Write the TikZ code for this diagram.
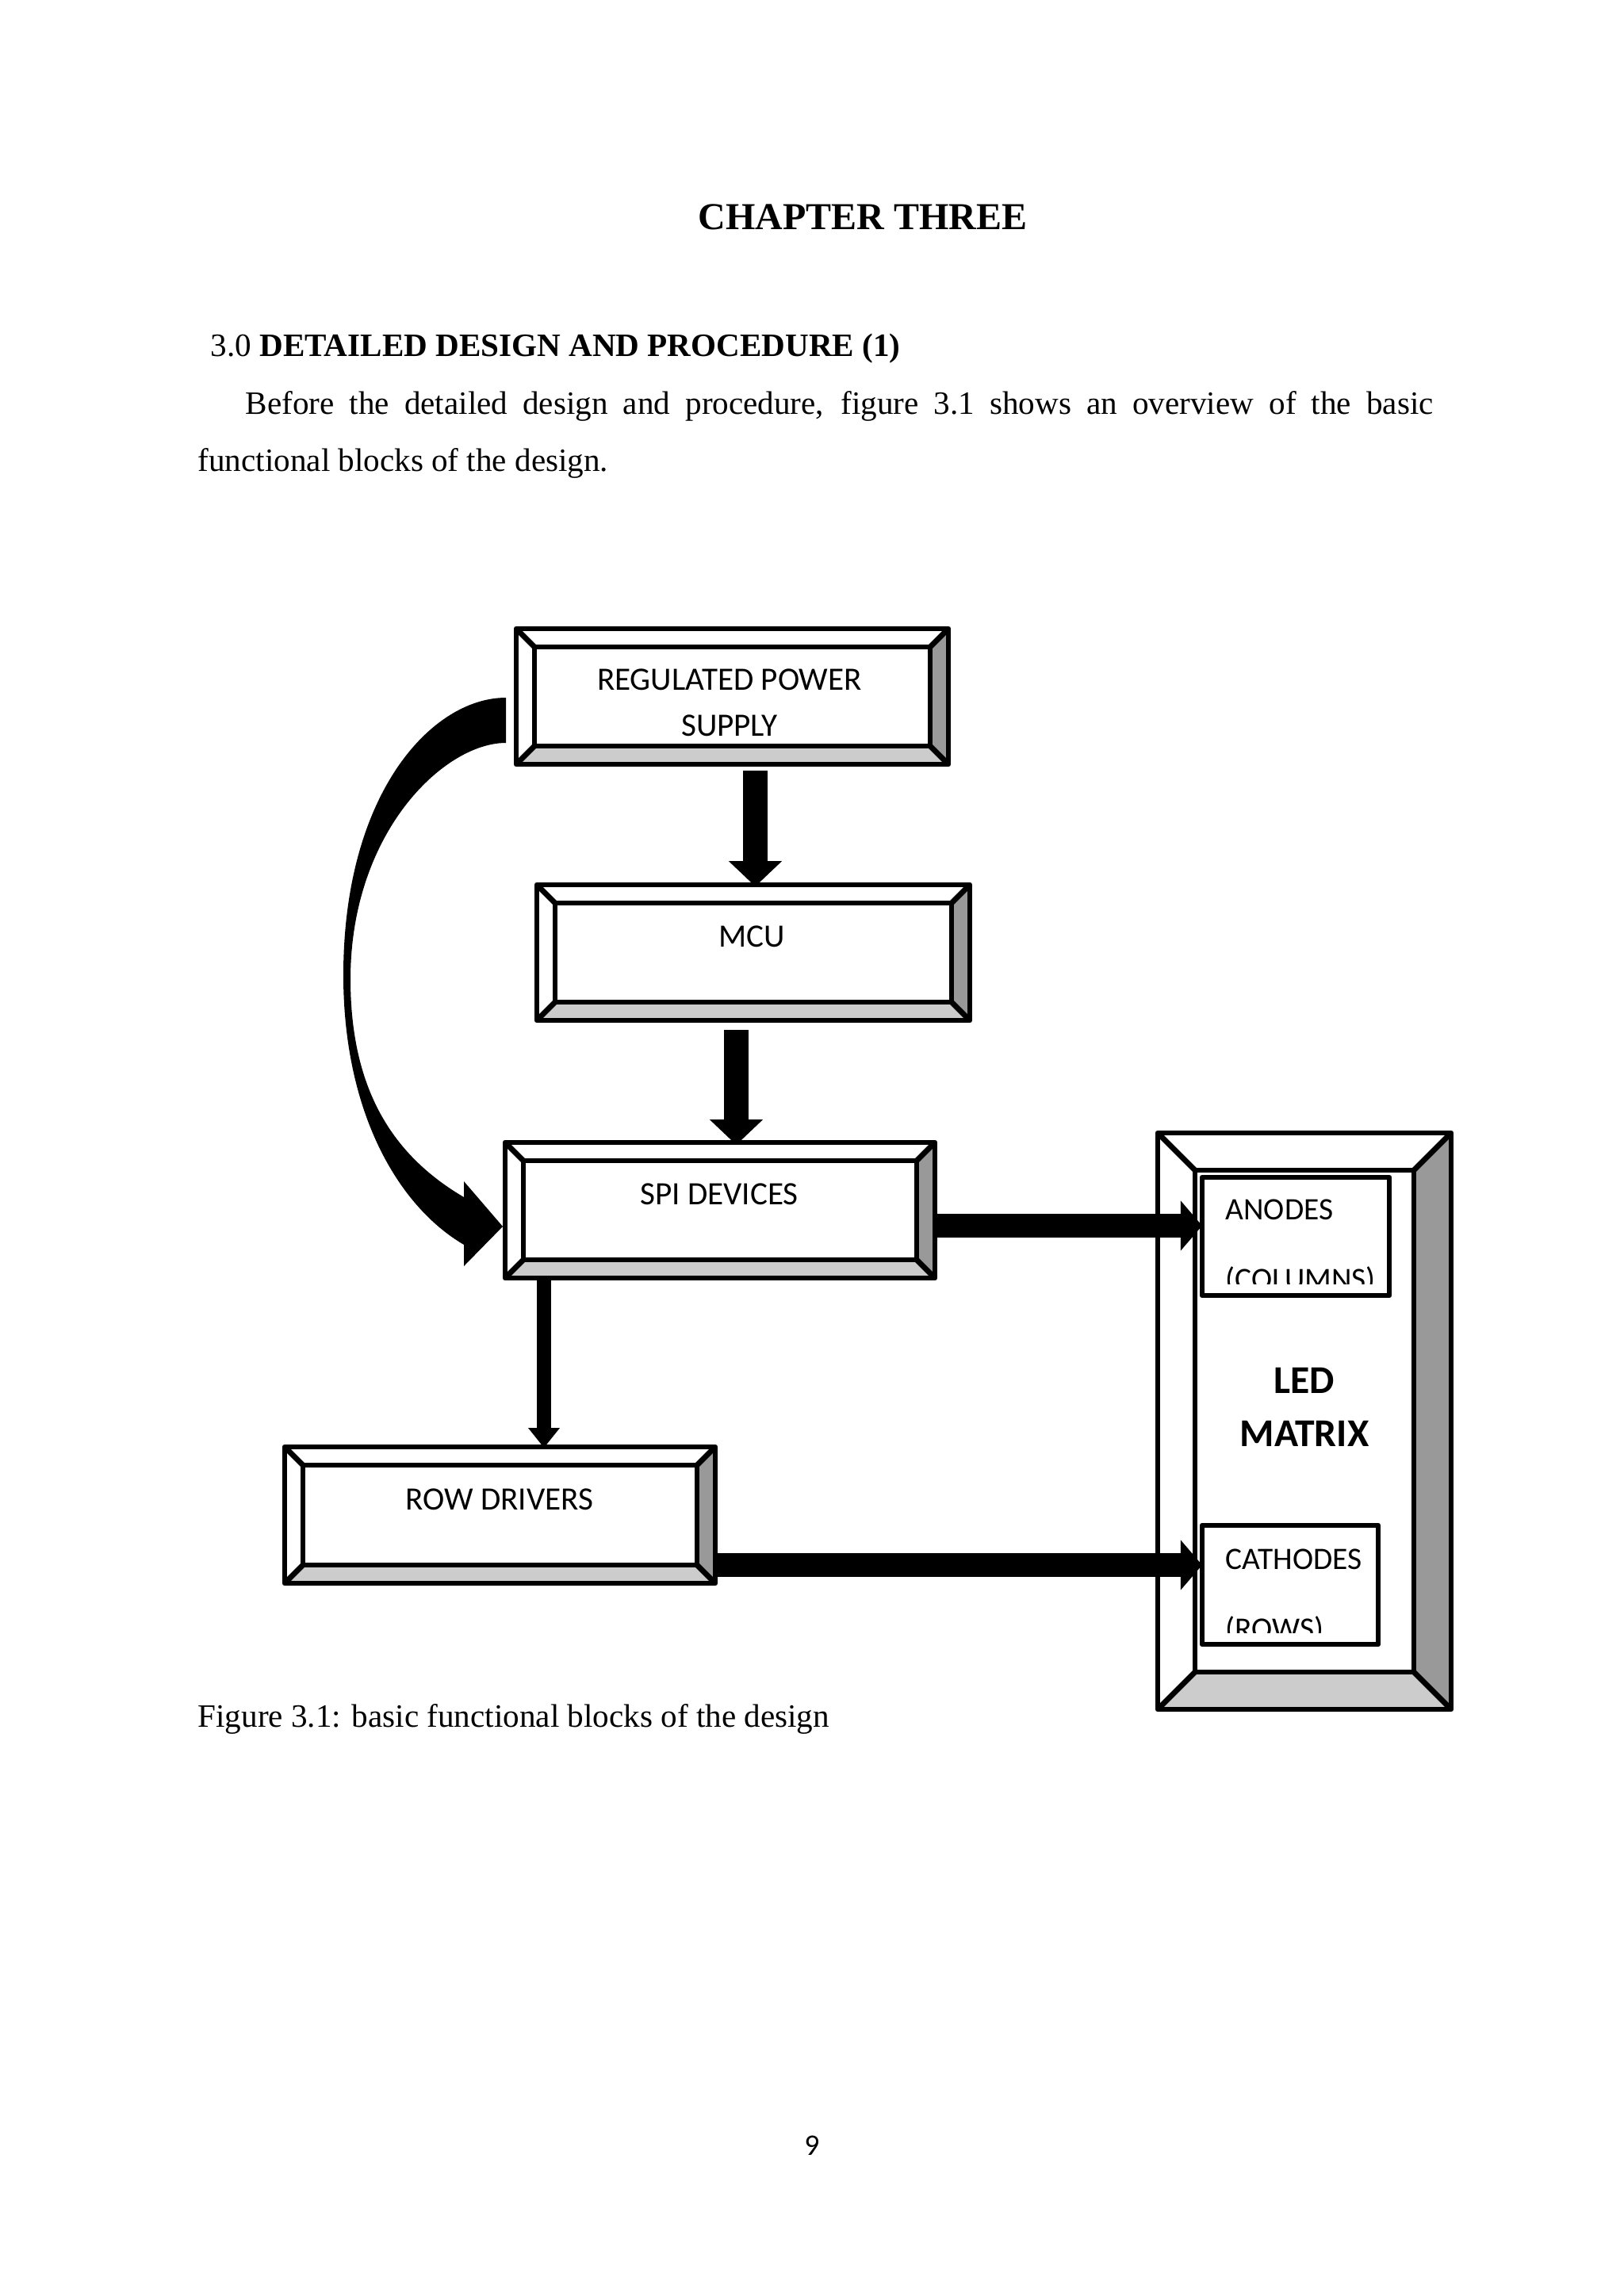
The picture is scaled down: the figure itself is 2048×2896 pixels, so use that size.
\documentclass[tikz,border=0pt]{standalone}
\usepackage{fontspec}
\setmainfont{Liberation Serif}
\newfontfamily\calibri{Carlito}
\usetikzlibrary{arrows.meta,calc}

\newlength{\px}
\setlength{\px}{0.10254mm}

\definecolor{bevdark}{HTML}{999999}
\definecolor{bevlight}{HTML}{CCCCCC}

\tikzset{
  boxline/.style={line width=2pt, line join=round},
  blockbox/.style={rectangle, inner sep=0pt, outer sep=0pt},
  boxtext/.style={inner sep=0pt, align=center, font=\calibri\fontsize{12}{16.9}\selectfont},
  pintext/.style={inner sep=0pt, align=left, font=\calibri\fontsize{11.5}{25.6}\selectfont},
  pagetext/.style={inner sep=0pt, font=\fontsize{12}{14}\selectfont},
  bigarrow/.style={line width=9pt, -{Triangle[length=9.3pt, width=19.6pt, line width=0pt]}},
  sidearrow/.style={line width=8.75pt, -{Triangle[length=7.9pt, width=18.4pt, line width=0pt]}},
  droparrow/.style={line width=5.25pt, -{Triangle[length=7.3pt, width=11.7pt, line width=0pt]}},
}

% bevelled frame round a box node: #1 node, #2 depth
\newcommand{\bevelframe}[2]{%
  \fill[bevdark] (#1.north east) -- ($(#1.north east)+(-#2,#2)$)
    -- ($(#1.south east)+(-#2,-#2)$) -- (#1.south east) -- cycle;
  \fill[bevlight] (#1.south west) -- ($(#1.south west)+(#2,-#2)$)
    -- ($(#1.south east)+(-#2,-#2)$) -- (#1.south east) -- cycle;
  \draw[boxline] ($(#1.north west)+(#2,#2)$) rectangle ($(#1.south east)+(-#2,-#2)$);
  \draw[boxline] (#1.north west) -- ++(#2,#2) (#1.north east) -- ++(-#2,#2)
    (#1.south west) -- ++(#2,-#2) (#1.south east) -- ++(-#2,-#2);
  \draw[boxline] (#1.north west) rectangle (#1.south east);
}

\begin{document}
\begin{tikzpicture}[x=\px, y=-\px]
\useasboundingbox (0,0) rectangle (2048,2896);
\fill[white] (0,0) rectangle (2048,2896);

% page text
\node[pagetext, font=\bfseries\fontsize{14}{17}\selectfont, anchor=base] (title) at (1088,289) {CHAPTER THREE};
\node[pagetext, anchor=base west] (sec) at (265,449) {3.0 \textbf{DETAILED DESIGN AND PROCEDURE (1)}};
\node[pagetext, anchor=base west] (para1) at (309,522)
  {\makebox[153.6mm][s]{Before the detailed design and procedure, figure 3.1 shows an overview of the basic}};
\node[pagetext, anchor=base west] (para2) at (249,594) {functional blocks of the design.};
\node[pagetext, anchor=base west] (caption) at (249,2178) {Figure 3.1: basic functional blocks of the design};
\node[pagetext, font=\calibri\fontsize{11}{13}\selectfont, anchor=base] (pageno) at (1024,2718) {9};

% blocks
\node[blockbox, minimum width=545*\px, minimum height=171*\px] (rps) at (923.5,878.5) {};
\bevelframe{rps}{23}
\node[boxtext, anchor=north] (rpsT) at (920,843) {REGULATED POWER\\SUPPLY};

\node[blockbox, minimum width=546*\px, minimum height=171*\px] (mcu) at (950,1201.5) {};
\bevelframe{mcu}{23}
\node[boxtext, anchor=north] (mcuT) at (948,1167) {MCU};

\node[blockbox, minimum width=542*\px, minimum height=171*\px] (spi) at (908,1526.5) {};
\bevelframe{spi}{23}
\node[boxtext, anchor=north] (spiT) at (907,1492) {SPI DEVICES};

\node[blockbox, minimum width=543*\px, minimum height=172*\px] (rowdrv) at (630.5,1911) {};
\bevelframe{rowdrv}{23}
\node[boxtext, anchor=north] (rowdrvT) at (630,1877) {ROW DRIVERS};

% led matrix
\node[blockbox, minimum width=370*\px, minimum height=727*\px] (led) at (1645,1792.5) {};
\bevelframe{led}{47}
\node[boxtext, font=\calibri\bfseries\fontsize{14.5}{19.5}\selectfont, anchor=north] (ledT) at (1645,1725) {LED\\MATRIX};

\node[blockbox, draw, boxline, fill=white, minimum width=236*\px, minimum height=149*\px] (anodes) at (1634,1559.5) {};
\begin{scope}
  \clip (1520,1490) rectangle (1748,1619);
  \node[pintext, anchor=north west] (anodesT) at (1545,1512) {ANODES\\(COLUMNS)};
\end{scope}

\node[blockbox, draw, boxline, fill=white, minimum width=222*\px, minimum height=150*\px] (cathodes) at (1627,1999) {};
\begin{scope}
  \clip (1520,1930) rectangle (1733,2059);
  \node[pintext, anchor=north west] (cathodesT) at (1545,1953) {CATHODES\\(ROWS)};
\end{scope}

% connectors
\draw[bigarrow] ($(rps.south)+(29,8)$) -- ($(mcu.north)+(2.5,2)$);
\draw[bigarrow] ($(mcu.south)+(-21.5,12)$) -- ($(spi.north)+(20.5,3)$);
\draw[droparrow] ($(spi.south)+(-222,0)$) -- ($(rowdrv.north)+(55.5,1)$);
\draw[sidearrow] ($(spi.east)+(0,19.5)$) -- ($(anodes.west)+(0,-13.5)$);
\draw[sidearrow] ($(rowdrv.east)+(0,63)$) -- ($(cathodes.west)+(0,-25)$);

% curved feed from the supply to the spi devices
\fill (638,880) .. controls (545,880) and (433,1000) .. (433,1230)
  .. controls (433,1400) and (500,1520) .. (585,1570)
  -- (585,1597) -- (634,1547) -- (585,1490) -- (585,1510)
  .. controls (500,1460) and (442,1380) .. (442,1235)
  .. controls (442,1050) and (560,937) .. (638,937) -- cycle;
\end{tikzpicture}
\end{document}
